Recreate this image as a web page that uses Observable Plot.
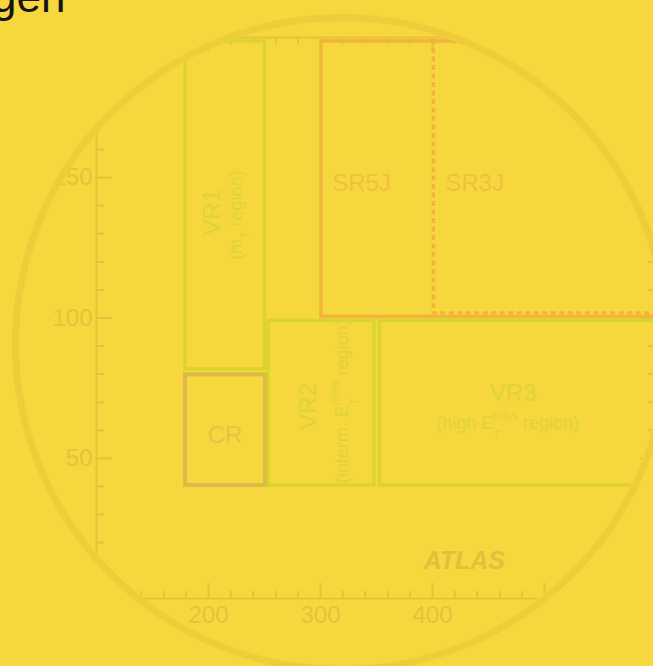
<!DOCTYPE html>
<html><head><meta charset="utf-8">
<script src="https://cdn.jsdelivr.net/npm/d3@7"></script>
<script src="https://cdn.jsdelivr.net/npm/@observablehq/plot@0.6"></script>
<style>
html,body{margin:0;padding:0;}
body{width:653px;height:666px;overflow:hidden;position:relative;background:#F6D73E;font-family:"Liberation Sans",Arial,sans-serif;}
#chart{position:absolute;left:0;top:0;clip-path:circle(322.5px at 341px 343px);}
#ring{position:absolute;left:11.5px;top:13.5px;width:659px;height:659px;box-sizing:border-box;border:7px solid #EDCE3A;border-radius:50%;}
#title{position:absolute;left:0;top:0;}
</style></head><body>
<div id="chart"></div>
<div id="ring"></div>
<svg id="title" width="653" height="60"><text x="-8" y="12" font-size="44" fill="#151515" font-family="Liberation Sans, Arial, sans-serif">gen</text></svg>
<script>
// axes
const xDomain = [100, 600];
const yDomain = [0, 200];
const xMajor = [100, 200, 300, 400, 500, 600];
const xMinor = [120, 140, 160, 180, 220, 240, 260, 280, 320, 340, 360, 380, 420, 440, 460, 480, 520, 540, 560, 580];
const yMajor = [0, 50, 100, 150, 200];
const yMinor = [10, 20, 30, 40, 60, 70, 80, 90, 110, 120, 130, 140, 160, 170, 180, 190];
const xTickLabels = [200, 300, 400];
const yTickLabels = [50, 100, 150];

// regions (E_T^miss on x, m_T on y)
const regionNames = ["VR1", "VR2", "VR3", "CR", "SR5J", "SR3J"];
const regionX1 = [179.5, 253.6, 353.0, 179.5, 300.9, 401.2];
const regionX2 = [250.4, 348.2, 600, 250.9, 600, 600];
const regionY1 = [81.7, 40.3, 40.3, 40.3, 100.4, 101.6];
const regionY2 = [198.6, 99.0, 99.0, 79.7, 198.6, 198.6];

// labels
const labelText = ["CR", "VR1", "(m_T region)", "VR2", "(interm. E_T^miss region)", "VR3", "(high E_T^miss region)", "SR5J", "SR3J", "ATLAS"];
const labelX = [214.7, 203.8, 224.5, 288.7, 319.6, 472.0, 467.0, 336.6, 437.8, 428.4];
const labelY = [58.0, 137.7, 136.7, 68.5, 70.3, 73.1, 62.4, 148.0, 148.0, 13.2];

const regions = regionNames.map((name, i) => ({name, x1: regionX1[i], x2: regionX2[i], y1: regionY1[i], y2: regionY2[i]}));
const labels = labelText.map((t, i) => ({t, x: labelX[i], y: labelY[i]}));
const pick = (...names) => labels.filter(d => names.includes(d.t));

const C = {
  axis: "#E4C43A", tick: "#E3C43C",
  green: "#D9D52D", greenText: "#DFD437",
  orange: "#F2B43C", orangeText: "#F3BF40",
  cr: "#DDBB47", crText: "#E4C447", atlas: "#E1C13A"
};

const plot = Plot.plot({
  width: 700, height: 666,
  marginLeft: 96, marginRight: 44, marginTop: 37, marginBottom: 68,
  x: {domain: xDomain, axis: null},
  y: {domain: yDomain, axis: null},
  style: {background: "none", maxWidth: "none", fontFamily: "Liberation Sans, Arial, sans-serif"},
  marks: [
    Plot.frame({stroke: C.axis, strokeWidth: 2}),
    // bottom ticks
    Plot.ruleX(xMajor, {x: d => d, y1: yDomain[0], y2: yDomain[0], insetBottom: 15, stroke: C.axis, strokeWidth: 2}),
    Plot.ruleX(xMinor, {x: d => d, y1: yDomain[0], y2: yDomain[0], insetBottom: 7, stroke: C.axis, strokeWidth: 2}),
    // top ticks
    Plot.ruleX(xMajor, {x: d => d, y1: yDomain[1], y2: yDomain[1], insetBottom: -15, stroke: C.axis, strokeWidth: 2}),
    Plot.ruleX(xMinor, {x: d => d, y1: yDomain[1], y2: yDomain[1], insetBottom: -7, stroke: C.axis, strokeWidth: 2}),
    // left ticks
    Plot.ruleY(yMajor, {y: d => d, x1: xDomain[0], x2: xDomain[0], insetRight: -16, stroke: C.axis, strokeWidth: 2}),
    Plot.ruleY(yMinor, {y: d => d, x1: xDomain[0], x2: xDomain[0], insetRight: -8, stroke: C.axis, strokeWidth: 2}),
    // right ticks
    Plot.ruleY(yMajor, {y: d => d, x1: xDomain[1], x2: xDomain[1], insetRight: 16, stroke: C.axis, strokeWidth: 2}),
    Plot.ruleY(yMinor, {y: d => d, x1: xDomain[1], x2: xDomain[1], insetRight: 8, stroke: C.axis, strokeWidth: 2}),
    // tick labels
    Plot.text(xTickLabels, {x: d => d, frameAnchor: "bottom", lineAnchor: "top", dy: 7, text: d => String(d), fontSize: 24, fill: C.tick}),
    Plot.text(yTickLabels, {y: d => d, frameAnchor: "left", textAnchor: "end", dx: -4, text: d => String(d), fontSize: 24, fill: C.tick}),
    // regions
    Plot.rect(regions.filter(d => d.name.startsWith("VR")), {x1: "x1", x2: "x2", y1: "y1", y2: "y2", fill: "none", stroke: C.green, strokeWidth: 3.4}),
    Plot.rect(regions.filter(d => d.name === "CR"), {x1: "x1", x2: "x2", y1: "y1", y2: "y2", fill: "none", stroke: C.cr, strokeWidth: 4}),
    Plot.rect(regions.filter(d => d.name === "SR5J"), {x1: "x1", x2: "x2", y1: "y1", y2: "y2", fill: "none", stroke: C.orange, strokeWidth: 3.5}),
    Plot.rect(regions.filter(d => d.name === "SR3J"), {x1: "x1", x2: "x2", y1: "y1", y2: "y2", fill: "none", stroke: C.orange, strokeWidth: 3.5, strokeDasharray: "5,3.5"}),
    // labels
    Plot.text(pick("CR"), {x: "x", y: "y", text: "t", fontSize: 24, fill: C.crText}),
    Plot.text(pick("SR5J", "SR3J"), {x: "x", y: "y", text: "t", fontSize: 24, fill: C.orangeText}),
    Plot.text(pick("VR3"), {x: "x", y: "y", text: "t", fontSize: 24, fill: C.greenText}),
    Plot.text(pick("(high E_T^miss region)"), {x: "x", y: "y", text: "t", fontSize: 18, fill: C.greenText}),
    Plot.text(pick("VR1", "VR2"), {x: "x", y: "y", text: "t", fontSize: 24, rotate: -90, fill: C.greenText}),
    Plot.text(pick("(m_T region)", "(interm. E_T^miss region)"), {x: "x", y: "y", text: "t", fontSize: 18, rotate: -90, fill: C.greenText}),
    Plot.text(pick("ATLAS"), {x: "x", y: "y", text: "t", fontSize: 25, fontWeight: "bold", fontStyle: "italic", fill: C.atlas})
  ]
});
document.getElementById("chart").appendChild(plot);

// subscripts / superscripts as real tspans
const NS = "http://www.w3.org/2000/svg";
function span(txt, attrs) {
  const s = document.createElementNS(NS, "tspan");
  s.textContent = txt;
  for (const k in attrs) s.setAttribute(k, attrs[k]);
  return s;
}
plot.querySelectorAll("text").forEach(el => {
  const s = el.textContent;
  if (s.includes("E_T^miss")) {
    const [pre, post] = s.split("E_T^miss");
    el.textContent = pre + "E";
    const sup = span("miss", {"font-size": 12, dy: -9});
    el.appendChild(sup);
    const supLen = sup.getComputedTextLength();
    const sub = span("T", {"font-size": 12, dy: 20, dx: -supLen});
    el.appendChild(sub);
    const subLen = sub.getComputedTextLength();
    el.appendChild(span(post, {dy: -11, dx: supLen - subLen}));
  } else if (s.includes("m_T")) {
    const [pre, post] = s.split("m_T");
    el.textContent = pre + "m";
    el.appendChild(span("T", {"font-size": 12, dy: 8}));
    el.appendChild(span(post, {dy: -8}));
  }
});
</script>
</body></html>
